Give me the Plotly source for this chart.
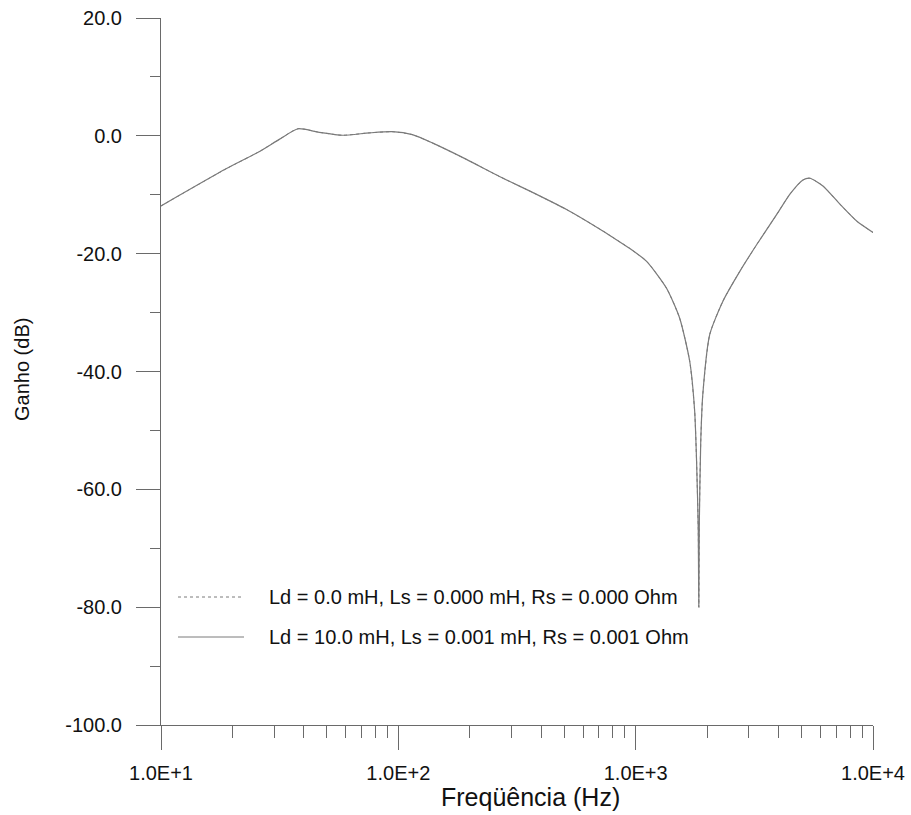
import plotly.graph_objects as go

# Frequency (Hz) and gain (dB)
freq_hz = [10, 18.8, 25.9, 31.5, 37.8, 46.4, 58.1, 75.5, 94.4, 114.6, 139, 193.6,
           266.8, 367.6, 511.3, 704.5, 799, 943, 1112, 1351, 1534, 1690, 1773,
           1806, 1835, 1845, 1854, 1880, 1918, 2052, 2329, 2747, 3243, 3937,
           4467, 5067, 5424, 6152, 7258, 8556, 10000]
gain_ld10 = [-11.9, -5.6, -2.7, -0.6, 1.2, 0.6, 0.1, 0.5, 0.7, 0.2, -1.2, -4.0,
             -6.9, -9.6, -12.5, -15.8, -17.2, -19.1, -21.3, -25.9, -31.0, -38.3, -46.8,
             -55.3, -66.7, -80.0, -66.0, -52.0, -43.9, -33.7, -28.1, -23.0, -18.4, -13.3,
             -9.9, -7.5, -7.2, -8.5, -11.6, -14.5, -16.4]
gain_ld0 = [-11.9, -5.6, -2.7, -0.6, 1.2, 0.6, 0.1, 0.5, 0.7, 0.2, -1.2, -4.0,
            -6.9, -9.6, -12.5, -15.8, -17.2, -19.1, -21.3, -25.9, -31.0, -38.3, -46.8,
            -55.3, -66.7, -80.0, -66.0, -52.0, -43.9, -33.7, -28.1, -23.0, -18.4, -13.3,
            -9.9, -7.5, -7.2, -8.5, -11.6, -14.5, -16.4]

series_names = ["Ld = 0.0 mH, Ls = 0.000 mH, Rs = 0.000 Ohm",
                "Ld = 10.0 mH, Ls = 0.001 mH, Rs = 0.001 Ohm"]

x_tickvals = [10, 100, 1000, 10000]
x_ticktext = ["1.0E+1", "1.0E+2", "1.0E+3", "1.0E+4"]
y_tickvals = [20, 0, -20, -40, -60, -80, -100]
y_ticktext = ["20.0", "0.0", "-20.0", "-40.0", "-60.0", "-80.0", "-100.0"]

x_title = "Freqüência (Hz)"
y_title = "Ganho (dB)"

FONT = "Liberation Sans, Arial, sans-serif"
AX = "#6a6a6a"
LINE = "#7a7a7a"

fig = go.Figure()
fig.add_trace(go.Scatter(x=freq_hz, y=gain_ld0, mode="lines", name=series_names[0],
                         line=dict(color=LINE, width=1, dash="3px,3px", shape="spline",
                                   smoothing=0.6), showlegend=False))
fig.add_trace(go.Scatter(x=freq_hz, y=gain_ld10, mode="lines", name=series_names[1],
                         line=dict(color=LINE, width=1.2, shape="spline", smoothing=0.6),
                         showlegend=False))

W, H = 911, 815
L, R, T, B = 161, 38, 18, 90
pw, ph = W - L - R, H - T - B

def px_x(p):
    return (p - L) / pw

def px_y(p):
    return (H - B - p) / ph

fig.update_layout(
    width=W, height=H,
    margin=dict(l=L, r=R, t=T, b=B, autoexpand=False),
    paper_bgcolor="white", plot_bgcolor="white",
    font=dict(family=FONT, size=20, color="#111"),
    showlegend=False,
    xaxis=dict(type="log", range=[1, 4], tickvals=x_tickvals, ticktext=x_ticktext,
               showgrid=False, zeroline=False, showline=True, linecolor=AX, linewidth=1,
               ticks="outside", ticklen=24, tickcolor=AX, tickwidth=1,
               ticklabelstandoff=6, automargin=False,
               minor=dict(dtick="D1", ticks="outside", ticklen=12, tickcolor=AX, tickwidth=1,
                          showgrid=False),
               tickfont=dict(size=20, family=FONT, color="#111")),
    yaxis=dict(range=[-100, 20], tickvals=y_tickvals, ticktext=y_ticktext,
               showgrid=False, zeroline=False, showline=True, linecolor=AX, linewidth=1,
               ticks="outside", ticklen=24, tickcolor=AX, tickwidth=1,
               ticklabelstandoff=10, automargin=False,
               minor=dict(dtick=10, ticks="outside", ticklen=10, tickcolor=AX, tickwidth=1,
                          showgrid=False),
               tickfont=dict(size=20, family=FONT, color="#111")),
)

# axis titles
fig.add_annotation(text=x_title, xref="paper", yref="paper", x=px_x(530), y=px_y(797),
                   showarrow=False, font=dict(size=25, family=FONT, color="#111"),
                   xanchor="center", yanchor="middle")
fig.add_annotation(text=y_title, xref="paper", yref="paper", x=px_x(22), y=px_y(370),
                   showarrow=False, textangle=-90, font=dict(size=20, family=FONT, color="#111"),
                   xanchor="center", yanchor="middle")

# manual legend (no frame)
legend_rows = [597, 637]
dashes = ["3px,3px", "solid"]
for name, ry, dsh in zip(series_names, legend_rows, dashes):
    fig.add_shape(type="line", xref="paper", yref="paper",
                  x0=px_x(178), x1=px_x(244), y0=px_y(ry), y1=px_y(ry),
                  line=dict(color=LINE, width=1, dash=dsh))
    fig.add_annotation(text=name, xref="paper", yref="paper", x=px_x(267), y=px_y(ry),
                       showarrow=False, xanchor="left", yanchor="middle",
                       font=dict(size=20, family=FONT, color="#111"))

fig.write_html("out.html", config={"displayModeBar": False},
               post_script="document.body.style.margin='0';document.body.style.overflow='hidden';")
